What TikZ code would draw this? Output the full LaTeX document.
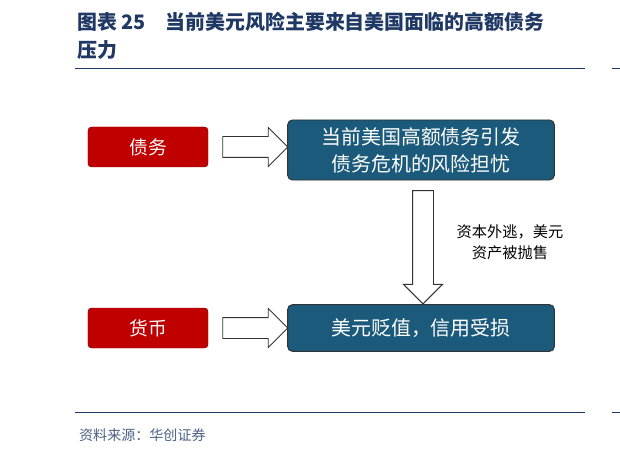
\documentclass[tikz,border=0pt]{standalone}
\usepackage{fontspec}
\setmainfont{Noto Sans CJK SC}
\usetikzlibrary{shapes.arrows}
\definecolor{titleblue}{HTML}{1F3864}
\definecolor{boxred}{HTML}{C00000}
\definecolor{boxblue}{HTML}{1B5A7A}
\tikzset{
  redbox/.style={fill=boxred, draw=boxred!70!black, rounded corners=3pt, text=white,
    minimum width=3.6cm, minimum height=1.2cm, font=\fontsize{16}{19}\selectfont},
  bluebox/.style={fill=boxblue, draw=black!80, thick, rounded corners=4pt, text=white,
    minimum width=8cm, align=center, font=\fontsize{17}{23}\selectfont},
  hollow/.style={single arrow, draw=black!80, thick, fill=white, minimum height=1.95cm,
    single arrow head extend=0.27cm, inner xsep=0pt, inner ysep=0.3cm, text width=0pt}
}
\begin{document}
\begin{tikzpicture}[x=0.03cm, y=-0.03cm]
    \useasboundingbox (0,0) rectangle (620,455);
% title
    \node[anchor=west, text=titleblue, font=\bfseries\fontsize{17}{20}\selectfont] (title1) at (73,22) {图表 25\quad 当前美元风险主要来自美国面临的高额债务};
    \node[anchor=west, text=titleblue, font=\bfseries\fontsize{17}{20}\selectfont] (title2) at (73,50) {压力};
    \draw[titleblue, thick] (75,68) -- (585,68);
    \draw[titleblue, thick] (612,68) -- (620,68);

% upper row
    \node[redbox] (debt) at (148,147) {债务};
    \node[hollow] (a1) at (250,147) {};
    \node[bluebox, minimum height=1.8cm] (crisis) at (421,150) {当前美国高额债务引发\\债务危机的风险担忧};

% vertical arrow
    \node[hollow, rotate=-90, minimum height=3.4cm] (a2) at (423,242) {};
    \node[align=center, font=\fontsize{13}{18}\selectfont] (flight) at (510,242) {资本外逃，美元\\资产被抛售};

% lower row
    \node[redbox] (money) at (148,328) {货币};
    \node[hollow] (a3) at (250,328) {};
    \node[bluebox, minimum height=1.4cm] (loss) at (421,328) {美元贬值，信用受损};

% source
    \draw[titleblue, thick] (75,412) -- (585,412);
    \draw[titleblue, thick] (612,412) -- (620,412);
    \node[anchor=west, text=titleblue!80, font=\itshape\fontsize{12}{14}\selectfont] (src) at (75,435) {资料来源：华创证券};
\end{tikzpicture}
\end{document}
